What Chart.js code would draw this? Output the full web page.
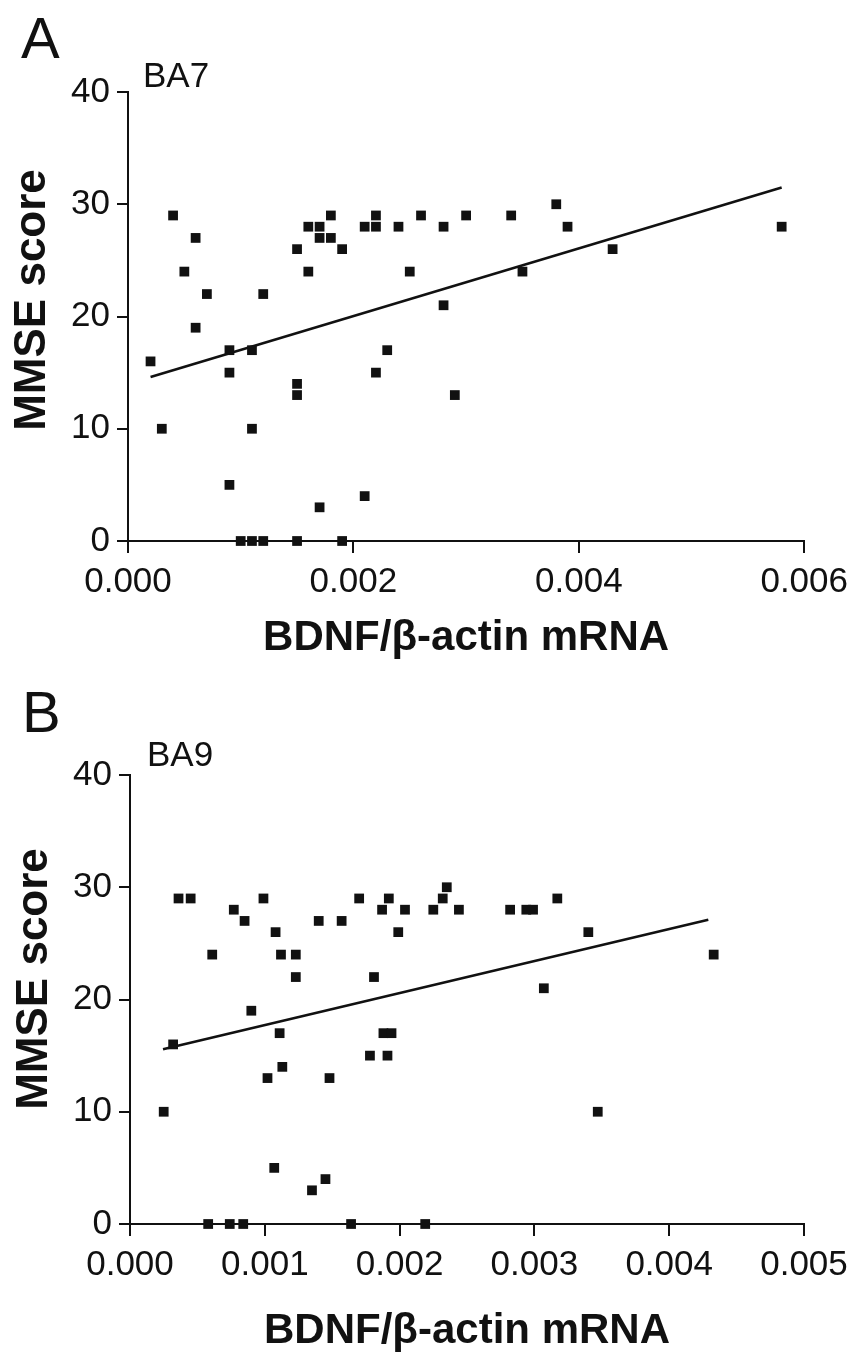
<!DOCTYPE html>
<html><head><meta charset="utf-8">
<script src="https://cdn.jsdelivr.net/npm/chart.js@4.4.0/dist/chart.umd.min.js"></script>
<style>
html,body{margin:0;padding:0;background:#fff;}
#wrap{position:relative;width:856px;height:1353px;background:#fff;}
canvas{position:absolute;left:0;}
</style></head><body>
<div id="wrap">
<canvas id="cA" width="856" height="676" style="top:0px"></canvas>
<canvas id="cB" width="856" height="677" style="top:676px"></canvas>
</div>
<script>
// ---------- Panel A : BA7 ----------
const ba7X = [0.0002,0.0003,0.0004,0.0005,0.0006,0.0006,0.0007,0.0009,0.0009,0.0009,
  0.0010,0.0011,0.0011,0.0011,0.0012,0.0012,0.0015,0.0015,0.0015,0.0015,
  0.0016,0.0016,0.0017,0.0017,0.0017,0.0018,0.0018,0.0019,0.0019,0.0021,
  0.0021,0.0022,0.0022,0.0022,0.0023,0.0024,0.0025,0.0026,0.0028,0.0028,
  0.0029,0.0030,0.0034,0.0035,0.0038,0.0039,0.0043,0.0058];
const ba7Y = [16,10,29,24,27,19,22,17,15,5,
  0,17,10,0,22,0,26,14,13,0,
  28,24,28,27,3,29,27,26,0,28,
  4,29,28,15,17,28,24,29,28,21,
  13,29,29,24,30,28,26,28];
const ba7FitX = [0.0002, 0.0058];
const ba7FitY = [14.6, 31.5];
const ba7XTicks = [0, 0.002, 0.004, 0.006];
const ba7XTickLabels = ['0.000','0.002','0.004','0.006'];

// ---------- Panel B : BA9 ----------
const ba9X = [0.00025,0.00032,0.00036,0.00045,0.00058,0.00061,0.00074,0.00077,0.00084,0.00085,
  0.00090,0.00099,0.00102,0.00107,0.00108,0.00111,0.00112,0.00113,0.00123,0.00123,
  0.00135,0.00140,0.00145,0.00148,0.00157,0.00164,0.00170,0.00178,0.00181,0.00187,
  0.00188,0.00191,0.00192,0.00194,0.00199,0.00204,0.00219,0.00225,0.00232,0.00235,
  0.00244,0.00282,0.00294,0.00299,0.00307,0.00317,0.00340,0.00347,0.00433];
const ba9Y = [10,16,29,29,0,24,0,28,0,27,
  19,29,13,5,26,17,24,14,24,22,
  3,27,4,13,27,0,29,15,22,28,
  17,15,29,17,26,28,0,28,29,30,
  28,28,28,28,21,29,26,10,24];
const ba9FitX = [0.000245, 0.00429];
const ba9FitY = [15.56, 27.1];
const ba9XTicks = [0, 0.001, 0.002, 0.003, 0.004, 0.005];
const ba9XTickLabels = ['0.000','0.001','0.002','0.003','0.004','0.005'];

// ---------- shared ----------
const yTicks = [0, 10, 20, 30, 40];
const yTickLabels = ['0','10','20','30','40'];
const yTitle = 'MMSE score';
const xTitle = 'BDNF/\u03B2-actin mRNA';

const FONT = "'Liberation Sans', Arial, Helvetica, sans-serif";
const NARROW_NAME = 'Liberation Sans Narrow';
const INK = '#111111';

function hasFont(name){
  const c = document.createElement('canvas').getContext('2d');
  const s = '0.002 MMSE score abc';
  c.font = '40px monospace'; const a = c.measureText(s).width;
  c.font = "40px '" + name + "', monospace"; const b = c.measureText(s).width;
  return Math.abs(a - b) > 0.5;
}
const NARROW = hasFont(NARROW_NAME);
const AXFONT = NARROW ? ("'" + NARROW_NAME + "', " + FONT) : FONT;
const TICK_SIZE = NARROW ? 43 : 35;
const XT_SIZE = NARROW ? 51 : 42;
const YT_SIZE = NARROW ? 53 : 44;

function pts(xs, ys){ return xs.map((x,i)=>({x:x, y:ys[i]})); }

const labelsPlugin = {
  id: 'panelLabels',
  afterDraw(chart, args, o){
    const ctx = chart.ctx, ca = chart.chartArea;
    ctx.save();
    ctx.fillStyle = INK;
    ctx.textBaseline = 'alphabetic';
    ctx.textAlign = 'left';
    ctx.font = '58px ' + FONT;
    ctx.fillText(o.letter, o.letterX, o.letterY);
    ctx.font = '35px ' + FONT;
    ctx.fillText(o.region, o.regionX, o.regionY);
    // x title
    ctx.font = 'bold ' + XT_SIZE + 'px ' + AXFONT;
    ctx.textAlign = 'center';
    ctx.fillText(xTitle, (ca.left + ca.right)/2, o.xTitleY);
    // y title
    ctx.translate(o.yTitleX, o.yTitleY);
    ctx.rotate(-Math.PI/2);
    ctx.font = 'bold ' + YT_SIZE + 'px ' + AXFONT;
    ctx.textBaseline = 'middle';
    ctx.fillText(yTitle, 0, 0);
    ctx.restore();
  }
};

function makeChart(id, xs, ys, fx, fy, xTicks, xTickLabels, xMax, cfg){
  const ctx = document.getElementById(id).getContext('2d');
  return new Chart(ctx, {
    type: 'scatter',
    data: {
      datasets: [
        { type:'scatter', data: pts(xs, ys), pointStyle:'rect', pointRadius:6.9,
          pointHoverRadius:6.9, backgroundColor: INK, borderColor: INK, borderWidth:0, clip:false },
        { type:'line', data: pts(fx, fy), borderColor: INK, borderWidth: 2.6,
          pointRadius:0, fill:false, tension:0, clip:false }
      ]
    },
    options: {
      responsive:false, animation:false, devicePixelRatio:1,
      layout: { padding: { top: cfg.top, right: cfg.right, left: 0, bottom: 0 } },
      plugins: { legend:{display:false}, tooltip:{enabled:false}, panelLabels: cfg.labels },
      scales: {
        x: {
          type:'linear', min:0, max:xMax,
          afterBuildTicks: s => { s.ticks = xTicks.map(v=>({value:v})); },
          afterFit: s => { s.height = cfg.xAxisH; },
          ticks: { color: INK, font:{family:AXFONT, size:TICK_SIZE}, padding: NARROW ? 3 : 8, maxRotation:0,
                   autoSkip:false, callback: (v, i) => xTickLabels[i] },
          grid: { drawOnChartArea:false, drawTicks:true, tickLength:12, color:INK, lineWidth:2 },
          border: { display:true, color:INK, width:2 }
        },
        y: {
          type:'linear', min:0, max:40,
          afterBuildTicks: s => { s.ticks = yTicks.map(v=>({value:v})); },
          afterFit: s => { s.width = cfg.yAxisW; },
          ticks: { color: INK, font:{family:AXFONT, size:TICK_SIZE}, padding:7,
                   autoSkip:false, callback: (v, i) => yTickLabels[i] },
          grid: { drawOnChartArea:false, drawTicks:true, tickLength:11, color:INK, lineWidth:2 },
          border: { display:true, color:INK, width:2 }
        }
      }
    },
    plugins: [labelsPlugin]
  });
}

makeChart('cA', ba7X, ba7Y, ba7FitX, ba7FitY, ba7XTicks, ba7XTickLabels, 0.006, {
  top: 92, right: 51, xAxisH: 135, yAxisW: 128,
  labels: { letter:'A', letterX:21, letterY:58, region:'BA7', regionX:143, regionY:87,
            xTitleY:650, yTitleX:33, yTitleY:300 }
});
makeChart('cB', ba9X, ba9Y, ba9FitX, ba9FitY, ba9XTicks, ba9XTickLabels, 0.005, {
  top: 99, right: 52, xAxisH: 129, yAxisW: 130,
  labels: { letter:'B', letterX:22, letterY:56, region:'BA9', regionX:147, regionY:90,
            xTitleY:667, yTitleX:35, yTitleY:303 }
});
</script>
</body></html>
